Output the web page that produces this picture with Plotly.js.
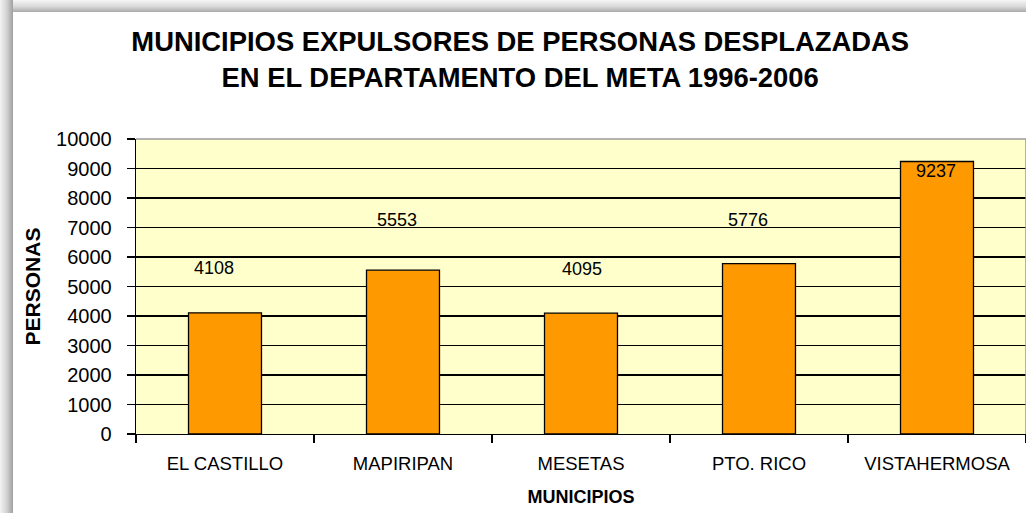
<!DOCTYPE html>
<html>
<head>
<meta charset="utf-8">
<script src="https://cdn.plot.ly/plotly-3.0.1.min.js"></script>
<style>
  html, body { margin: 0; padding: 0; background: #ffffff; }
  #wrap { position: relative; width: 1026px; height: 513px; overflow: hidden; }
  #chart { position: absolute; left: 0; top: 0; width: 1026px; height: 513px; }
  #shadowL { position: absolute; left: 0; top: 0; width: 13px; height: 513px;
    background: linear-gradient(to right, #f4f4f4 0%, #d4d4d4 50%, #a0a0a0 100%); pointer-events: none; }
  #shadowT { position: absolute; left: 0; top: 0; width: 1026px; height: 12px;
    background: linear-gradient(to bottom, #f6f6f6 0%, #d8d8d8 55%, #aaaaaa 100%); pointer-events: none; }
</style>
</head>
<body>
<div id="wrap">
  <div id="chart"></div>
  <div id="shadowT"></div>
  <div id="shadowL"></div>
</div>
<script>
// ---- data ----
const municipios = ["EL CASTILLO", "MAPIRIPAN", "MESETAS", "PTO. RICO", "VISTAHERMOSA"];
const personas = [4108, 5553, 4095, 5776, 9237];
const yTicks = [0, 1000, 2000, 3000, 4000, 5000, 6000, 7000, 8000, 9000, 10000];

// ---- label placement (style, in px, as in the original Excel chart) ----
const labelDy = [45, 50, 44, 44, -9];
const labelDx = [-11, -6, 1, -11, -1];

const font = "Arial, 'Liberation Sans', sans-serif";

const trace = {
  type: "bar",
  x: municipios,
  y: personas,
  width: 0.41,
  marker: { color: "#FF9900", line: { color: "#000000", width: 1.3 } },
  hoverinfo: "x+y"
};

const annotations = municipios.map((m, i) => ({
  x: m, y: personas[i], xref: "x", yref: "y",
  text: String(personas[i]),
  showarrow: false,
  yshift: labelDy[i], xshift: labelDx[i],
  font: { family: font, size: 18, color: "#000000" }
}));

const layout = {
  width: 1026, height: 513,
  margin: { l: 136, r: 0, t: 139, b: 79, pad: 0 },
  paper_bgcolor: "#ffffff",
  plot_bgcolor: "#FFFFCC",
  showlegend: false,
  title: {
    text: "<b>MUNICIPIOS EXPULSORES DE PERSONAS DESPLAZADAS<br>EN EL DEPARTAMENTO DEL META 1996-2006</b>",
    x: 0.507, xanchor: "center", xref: "container",
    y: 1 - 51 / 513, yanchor: "top", yref: "container",
    font: { family: font, size: 27.4, color: "#000000" }
  },
  xaxis: {
    type: "category",
    range: [-0.5, 4.5],
    tickson: "boundaries",
    ticks: "outside", ticklen: 8, tickwidth: 1.3, tickcolor: "#000000",
    showline: true, linecolor: "#000000", linewidth: 1.3,
    showgrid: false, zeroline: false,
    ticklabelstandoff: 12,
    tickfont: { family: font, size: 18.5, color: "#000000" },
    title: { text: "<b>MUNICIPIOS</b>", standoff: 18,
      font: { family: font, size: 18, color: "#000000" } }
  },
  yaxis: {
    range: [0, 10000],
    tickmode: "array", tickvals: yTicks, ticktext: yTicks.map(String),
    ticks: "outside", ticklen: 8, tickwidth: 1.3, tickcolor: "#000000",
    showline: true, linecolor: "#000000", linewidth: 1.3,
    showgrid: true, gridcolor: "#000000", gridwidth: 1.3,
    zeroline: false,
    ticklabelstandoff: 11,
    tickfont: { family: font, size: 20, color: "#000000" },
    title: { text: "<b>PERSONAS</b>", standoff: 9,
      font: { family: font, size: 21, color: "#000000" } }
  },
  annotations: annotations,
  shapes: [
    { type: "line", xref: "paper", yref: "paper", x0: 0, x1: 1, y0: 1, y1: 1,
      line: { color: "#9a9a9a", width: 1.5 } },
    { type: "line", xref: "paper", yref: "paper", x0: 1, x1: 1, y0: 0, y1: 1,
      line: { color: "#9a9a9a", width: 1.5 } }
  ]
};

Plotly.newPlot("chart", [trace], layout, { displayModeBar: false, staticPlot: true });
</script>
</body>
</html>
